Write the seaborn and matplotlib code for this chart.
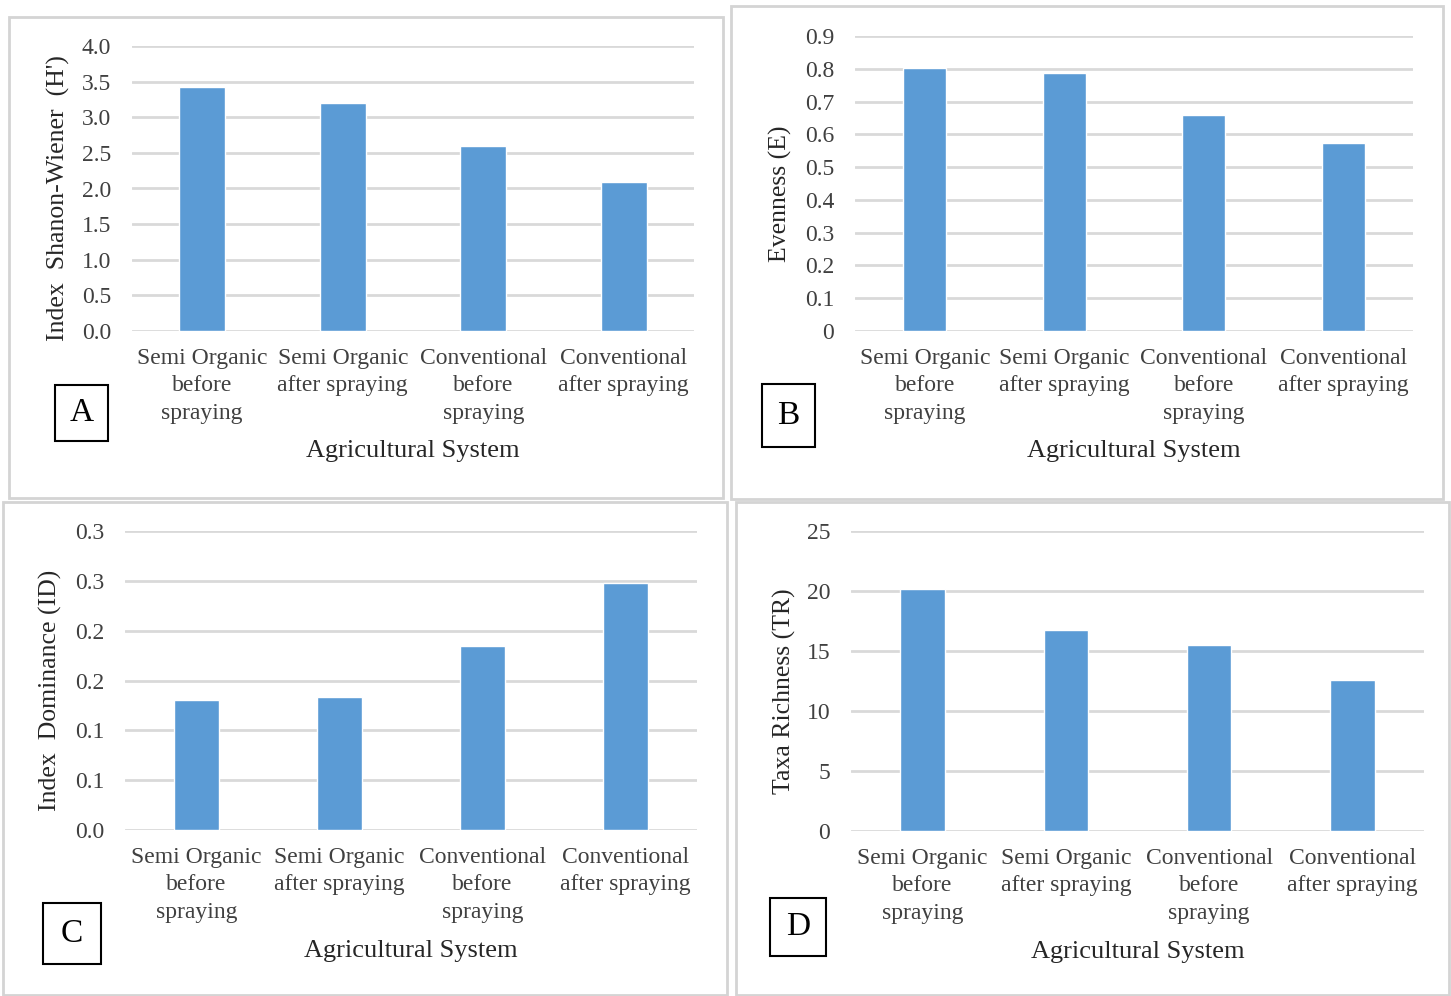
import matplotlib
matplotlib.use("Agg")
import matplotlib.pyplot as plt
import seaborn as sns
import pandas as pd
from matplotlib.patches import Rectangle
from matplotlib.ticker import FixedLocator, FixedFormatter

# ---------------- data ----------------
categories = ["Semi Organic\nbefore\nspraying", "Semi Organic\nafter spraying",
              "Conventional\nbefore\nspraying", "Conventional\nafter spraying"]
shannon = [3.42, 3.20, 2.60, 2.09]
evenness = [0.802, 0.787, 0.659, 0.573]
dominance = [0.130, 0.133, 0.185, 0.248]
richness = [20.2, 16.75, 15.5, 12.6]

ticks_A = [0, 0.5, 1.0, 1.5, 2.0, 2.5, 3.0, 3.5, 4.0]
labels_A = ["0.0", "0.5", "1.0", "1.5", "2.0", "2.5", "3.0", "3.5", "4.0"]
ticks_B = [0, 0.1, 0.2, 0.3, 0.4, 0.5, 0.6, 0.7, 0.8, 0.9]
labels_B = ["0", "0.1", "0.2", "0.3", "0.4", "0.5", "0.6", "0.7", "0.8", "0.9"]
ticks_C = [0, 0.05, 0.1, 0.15, 0.2, 0.25, 0.3]
labels_C = ["0.0", "0.1", "0.1", "0.2", "0.2", "0.3", "0.3"]
ticks_D = [0, 5, 10, 15, 20, 25]
labels_D = ["0", "5", "10", "15", "20", "25"]

ylabels = ["Index  Shanon-Wiener  (H')", "Evenness (E)", "Index  Dominance (ID)", "Taxa Richness (TR)"]
xlabel = "Agricultural System"
panel_letters = ["A", "B", "C", "D"]

# ---------------- style ----------------
sns.set_theme(style="white")
plt.rcParams["font.family"] = ["Liberation Serif", "DejaVu Serif"]
plt.rcParams["text.color"] = "#262626"

W, H = 1451, 996
fig = plt.figure(figsize=(W / 100, H / 100), dpi=100)
fig.patch.set_facecolor("white")

def fbox(x0, y0, x1, y1):
    return [x0 / W, 1 - y1 / H, (x1 - x0) / W, (y1 - y0) / H]

BAR = "#5B9BD5"
GRID = "#D9D9D9"
TXT = "#404040"

# panel frames (pixel boxes)
frames = [(9, 17, 723, 498), (731, 6, 1443, 499), (3, 502, 727, 995), (736, 502, 1449, 995)]
for (x0, y0, x1, y1) in frames:
    fig.patches.append(Rectangle((x0 / W, 1 - y1 / H), (x1 - x0) / W, (y1 - y0) / H,
                                 transform=fig.transFigure, fill=False,
                                 edgecolor="#D4D4D4", linewidth=2, zorder=0))

axes_boxes = [(132, 46, 694, 331), (855, 36, 1413, 331), (125, 531, 697, 830), (851, 531, 1424, 831)]
datasets = [shannon, evenness, dominance, richness]
ticksets = [(ticks_A, labels_A), (ticks_B, labels_B), (ticks_C, labels_C), (ticks_D, labels_D)]
widths = [0.33, 0.31, 0.31, 0.31]
ylab_x = [58, 780, 50, 784]
xlab_y = [451, 451, 951, 952]
letter_boxes = [(55, 385, 108, 441), (762, 384, 815, 447), (43, 903, 101, 964), (770, 898, 826, 956)]

for i in range(4):
    ax = fig.add_axes(fbox(*axes_boxes[i]))
    df = pd.DataFrame({"cat": categories, "val": datasets[i]})
    sns.barplot(data=df, x="cat", y="val", color=BAR, saturation=1, width=widths[i], ax=ax, zorder=3)
    t, l = ticksets[i]
    ax.set_ylim(0, t[-1])
    ax.set_xlim(-0.5, 3.5)
    ax.yaxis.set_major_locator(FixedLocator(t))
    ax.yaxis.set_major_formatter(FixedFormatter(l))
    ax.set_axisbelow(True)
    ax.yaxis.grid(True, color=GRID, linewidth=2)
    ax.xaxis.grid(False)
    for s in ax.spines.values():
        s.set_visible(False)
    ax.tick_params(axis="y", length=0, pad=15, labelsize=17, labelcolor=TXT)
    ax.tick_params(axis="x", length=0, pad=12, labelsize=17, labelcolor=TXT)
    for lab in ax.get_xticklabels():
        lab.set_linespacing(1.42)
    ax.set_xlabel("")
    ax.set_ylabel("")
    ax.patch.set_alpha(0)
    # axis titles in figure pixel coordinates
    x0, y0, x1, y1 = axes_boxes[i]
    fig.text(ylab_x[i] / W, 1 - ((y0 + y1) / 2 + 10) / H, ylabels[i], rotation=90,
             ha="center", va="center", fontsize=18.5, color="#262626")
    fig.text((x0 + x1) / 2 / W, 1 - xlab_y[i] / H, xlabel, ha="center", va="center",
             fontsize=19, color="#262626")
    bx0, by0, bx1, by1 = letter_boxes[i]
    fig.patches.append(Rectangle((bx0 / W, 1 - by1 / H), (bx1 - bx0) / W, (by1 - by0) / H,
                                 transform=fig.transFigure, fill=True, facecolor="white",
                                 edgecolor="black", linewidth=1.5, zorder=5))
    fig.text((bx0 + bx1) / 2 / W, 1 - (by0 + by1) / 2 / H, panel_letters[i], ha="center",
             va="center", fontsize=24, color="black", zorder=6)

fig.savefig("out.png", dpi=100, facecolor="white")
